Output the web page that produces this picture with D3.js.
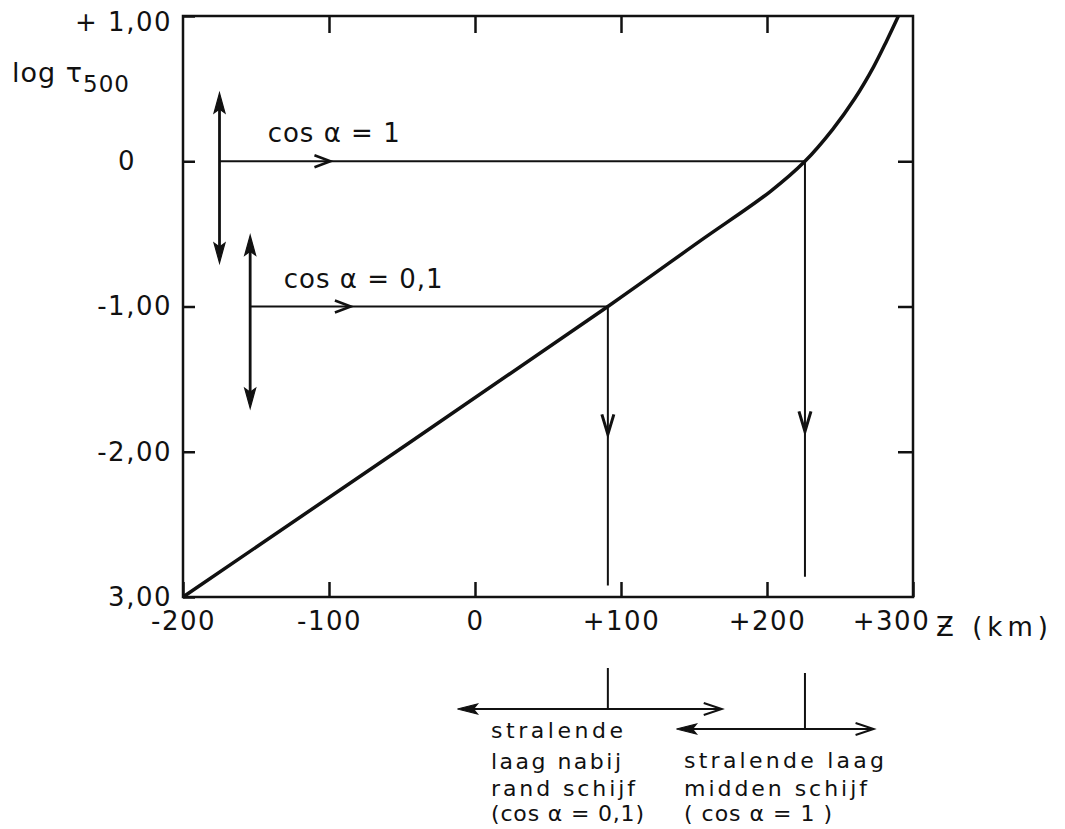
<!DOCTYPE html>
<html>
<head>
<meta charset="utf-8">
<script src="https://cdn.jsdelivr.net/npm/d3@7"></script>
<style>
  body { margin: 0; background: #fff; }
  text { font-family: "DejaVu Sans", sans-serif; fill: #111; }
</style>
</head>
<body>
<div id="chart"></div>
<script>
// curve: depth z (km) against log tau_500
const depthKm = [-200, 91, 154, 202, 226, 245, 260, 273, 282, 290];
const logTau = [-3, -1, -0.55, -0.21, 0, 0.22, 0.43, 0.65, 0.83, 1.0];

const xTicks = [-200, -100, 0, 100, 200, 300];
const xTickLabels = ["-200", "-100", "0", "+100", "+200", "+300"];
const yTicks = [1, 0, -1, -2, -3];
const yTickLabels = ["+ 1,00", "0", "-1,00", "-2,00", "3,00"];

// the two rays: label, level where they hit the curve, depth of that point
const rayLabels = ["cos α = 1", "cos α = 0,1"];
const rayLevels = [0, -1];
const rayDepths = [226, 91];

const layerTexts = [
  ["stralende", "laag nabij", "rand schijf", "(cos α = 0,1)"],
  ["stralende laag", "midden schijf", "( cos α = 1 )"]
];

const width = 1065;
const height = 829;
const ink = "#111";

const svg = d3.select("#chart")
    .append("svg")
    .attr("width", width)
    .attr("height", height);

const x = d3.scaleLinear().domain([-200, 300]).range([183, 913]);
const y = d3.scaleLinear().domain([-3, 1]).range([597, 16]);

// frame
svg.append("rect")
    .attr("x", x(-200))
    .attr("y", y(1))
    .attr("width", x(300) - x(-200))
    .attr("height", y(-3) - y(1))
    .attr("fill", "none")
    .attr("stroke", ink)
    .attr("stroke-width", 2.5);

function styleAxis(g){
    g.select(".domain").remove();
    g.selectAll(".tick line").attr("stroke", ink).attr("stroke-width", 2.5);
    g.attr("font-family", null).attr("font-size", 26);
    g.selectAll(".tick text").attr("fill", ink).attr("letter-spacing", 1.5);
}

// bottom axis with labels
const xAxisG = svg.append("g")
    .attr("transform", `translate(0,${y(-3)})`)
    .call(d3.axisBottom(x)
        .tickValues(xTicks)
        .tickFormat((d, i) => xTickLabels[i])
        .tickSizeInner(-15)
        .tickSizeOuter(0)
        .tickPadding(15))
    .call(styleAxis);
xAxisG.selectAll(".tick text").filter(d => d === 300).attr("dx", -22);

svg.append("text")
    .attr("x", 936)
    .attr("y", 636)
    .attr("font-size", 26)
    .attr("textLength", 112)
    .attr("lengthAdjust", "spacing")
    .text("Ƶ (km)");

// top ticks
svg.append("g")
    .attr("transform", `translate(0,${y(1)})`)
    .call(d3.axisTop(x).tickValues(xTicks.slice(1, -1)).tickFormat("").tickSizeInner(-17).tickSizeOuter(0))
    .call(styleAxis);

// left axis with labels
const yAxisG = svg.append("g")
    .attr("transform", `translate(${x(-200)},0)`)
    .call(d3.axisLeft(y)
        .tickValues(yTicks)
        .tickFormat((d, i) => yTickLabels[i])
        .tickSizeInner(-12)
        .tickSizeOuter(0)
        .tickPadding(11))
    .call(styleAxis);
yAxisG.selectAll(".tick text").filter(d => d === 0)
    .attr("text-anchor", "middle")
    .attr("x", -56);
yAxisG.selectAll(".tick text").filter(d => d === 1).attr("dy", "0.55em");

// right ticks
svg.append("g")
    .attr("transform", `translate(${x(300)},0)`)
    .call(d3.axisRight(y).tickValues(yTicks.slice(1, -1)).tickFormat("").tickSizeInner(-15).tickSizeOuter(0))
    .call(styleAxis);

// y axis title
const yTitle = svg.append("text")
    .attr("x", 12)
    .attr("y", 82)
    .attr("font-size", 27)
    .attr("letter-spacing", 1);
yTitle.append("tspan").text("log τ");
yTitle.append("tspan").attr("font-size", 23).attr("dy", 10).text("500");

// the curve
const points = depthKm.map((d, i) => [d, logTau[i]]);
svg.append("path")
    .datum(points)
    .attr("fill", "none")
    .attr("stroke", ink)
    .attr("stroke-width", 3.5)
    .attr("stroke-linejoin", "round")
    .attr("d", d3.line().x(d => x(d[0])).y(d => y(d[1])).curve(d3.curveCatmullRom.alpha(0.5)));

function line(x1, y1, x2, y2, w){
    svg.append("line")
        .attr("x1", x1).attr("y1", y1).attr("x2", x2).attr("y2", y2)
        .attr("stroke", ink).attr("stroke-width", w);
}

// open chevron with its tip at (px,py)
function chevron(px, py, dir, len, half, w){
    let p;
    if(dir === "right") p = [[px - len, py - half], [px, py], [px - len, py + half]];
    if(dir === "left") p = [[px + len, py - half], [px, py], [px + len, py + half]];
    if(dir === "down") p = [[px - half, py - len], [px, py], [px + half, py - len]];
    svg.append("path")
        .attr("d", d3.line()(p))
        .attr("fill", "none")
        .attr("stroke", ink)
        .attr("stroke-width", w)
        .attr("stroke-linejoin", "miter");
}

// narrow filled head with its tip at (px,py)
function filledHead(px, py, dir, len, half){
    let p;
    if(dir === "up") p = [[px, py], [px - half, py + len], [px, py + len - 4], [px + half, py + len]];
    if(dir === "down") p = [[px, py], [px - half, py - len], [px, py - len + 4], [px + half, py - len]];
    if(dir === "left") p = [[px, py], [px + len, py - half], [px + len - 4, py], [px + len, py + half]];
    svg.append("path")
        .attr("d", d3.line()(p) + "Z")
        .attr("fill", ink)
        .attr("stroke", ink)
        .attr("stroke-width", 1.2);
}

const rayStart = [-175, -154];
const rayArrowAt = [-99, -85];
const vArrowTop = [0.47, -0.51];
const vArrowBottom = [-0.70, -1.70];
const dropEnd = [-2.86, -2.92];
const dropArrowAt = [-1.86, -1.88];
const labelPos = [[-142, 0.13], [-131, -0.87]];

rayLabels.forEach((label, i) => {
    const yy = y(rayLevels[i]);
    // vertical double arrow
    line(x(rayStart[i]), y(vArrowTop[i]) + 6, x(rayStart[i]), y(vArrowBottom[i]) - 6, 2.8);
    filledHead(x(rayStart[i]), y(vArrowTop[i]), "up", 20, 5.5);
    filledHead(x(rayStart[i]), y(vArrowBottom[i]), "down", 20, 5.5);
    // ray towards the curve
    line(x(rayStart[i]), yy, x(rayDepths[i]), yy, 2);
    chevron(x(rayArrowAt[i]), yy, "right", 16, 6, 2.5);
    // drop line from the curve
    line(x(rayDepths[i]), yy, x(rayDepths[i]), y(dropEnd[i]), 2);
    chevron(x(rayDepths[i]), y(dropArrowAt[i]), "down", 20, 6, 3);
    svg.append("text")
        .attr("x", x(labelPos[i][0]))
        .attr("y", y(labelPos[i][1]))
        .attr("font-size", 26)
        .attr("letter-spacing", 1)
        .text(label);
});

// layers below the axis
const bracketTop = [668, 673];
const bracketY = [709, 729];
const bracketFrom = [-12, 138];
const bracketTo = [169, 273];
const textX = [491, 684];
const textBaselines = [[738, 769, 796, 821], [768, 796, 821]];
const textWidths = [[132, 130, 144, 153], [200, 183, 148]];

rayDepths.slice().reverse().forEach((d, i) => {
    line(x(d), bracketTop[i], x(d), bracketY[i], 2);
    line(x(bracketFrom[i]) + 4, bracketY[i], x(bracketTo[i]), bracketY[i], 2);
    filledHead(x(bracketFrom[i]), bracketY[i], "left", 20, 5);
    chevron(x(bracketTo[i]), bracketY[i], "right", 18, 6, 2);
    layerTexts[i].forEach((t, j) => {
        svg.append("text")
            .attr("x", textX[i])
            .attr("y", textBaselines[i][j])
            .attr("font-size", 22)
            .attr("textLength", textWidths[i][j])
            .attr("lengthAdjust", "spacing")
            .text(t);
    });
});
</script>
</body>
</html>
